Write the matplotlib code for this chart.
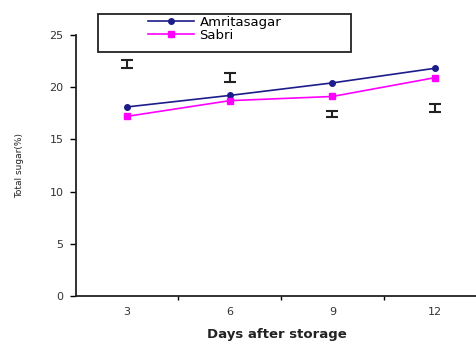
import numpy as np
import matplotlib
matplotlib.use("Agg")
from matplotlib import pyplot as plt
from matplotlib.patches import Rectangle

days = ["3", "6", "9", "12"]
amritasagar = [18.1, 19.2, 20.4, 21.8]
sabri = [17.2, 18.7, 19.1, 20.9]
lsd_center = [22.2, 20.9, 17.4, 18.0]
lsd_half = [0.4, 0.4, 0.3, 0.35]

fig = plt.figure(figsize=(4.77, 3.45), dpi=100)
ax = fig.add_axes([0.159, 0.142, 0.841, 0.757])

x = np.arange(len(days))
ax.plot(x, amritasagar, color="#1c1c8a", lw=1.2, marker="o", ms=4,
        label="Amritasagar")
ax.plot(x, sabri, color="#ff00ff", lw=1.2, marker="s", ms=5, label="Sabri")
ax.errorbar(x, lsd_center, yerr=lsd_half, fmt="none", ecolor="#222222",
            elinewidth=1.5, capsize=4, capthick=1.5)

ax.set_ylim(0, 25)
ax.set_xlim(-0.5, 3.41)
ax.set_yticks([0, 5, 10, 15, 20, 25])
ax.set_xticks(x)
ax.set_xticklabels(days)
ax.set_xticks([0.5, 1.5, 2.5], minor=True)
ax.tick_params(axis="x", which="major", length=0, pad=8, labelsize=8,
               labelcolor="#333333")
ax.tick_params(axis="x", which="minor", length=3, width=1, direction="out")
ax.tick_params(axis="y", length=4, width=1, labelsize=8, labelcolor="#333333",
               pad=5)
for s in ["top", "right"]:
    ax.spines[s].set_visible(False)
for s in ["left", "bottom"]:
    ax.spines[s].set_linewidth(1.3)
    ax.spines[s].set_color("#222222")

ax.set_xlabel("Days after storage", fontsize=9.5, fontweight="bold",
              color="#222222", labelpad=8)
ax.set_ylabel("Total sugar(%)", fontsize=6.5, color="#222222", labelpad=18)

# legend box drawn separately, entries sit in its upper half
fig.patches.append(Rectangle((98 / 477, 1 - 52 / 345), 253 / 477, 38 / 345,
                             transform=fig.transFigure, fill=False,
                             edgecolor="#222222", lw=1.3))
leg = fig.legend(loc="upper left", bbox_to_anchor=(148 / 477, 1 - 16 / 345),
                 fontsize=9.5, frameon=False, handlelength=3.5, borderpad=0,
                 borderaxespad=0, labelspacing=0.0, handletextpad=0.4)

fig.savefig("out.png", dpi=100)
